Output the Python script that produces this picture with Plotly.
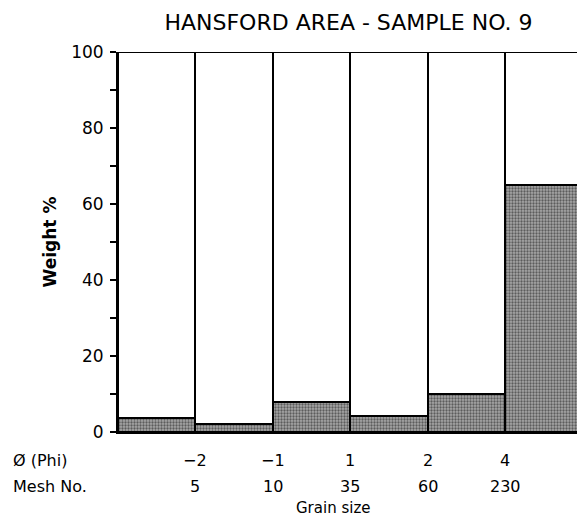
import plotly.graph_objects as go

title = "HANSFORD AREA - SAMPLE NO. 9"
bins = [0.5, 1.5, 2.5, 3.5, 4.5, 5.5]           # grain-size class centres (class index)
weight_pct = [3.7, 2.2, 8.0, 4.2, 9.9, 65.1]     # weight % in each class
boundaries = [1, 2, 3, 4, 5]                      # class boundaries
phi_labels = ["\u22122", "\u22121", "1", "2", "4"]
mesh_labels = ["5", "10", "35", "60", "230"]
y_ticks = [0, 10, 20, 30, 40, 50, 60, 70, 80, 90, 100]
y_ticktext = ["0", "", "20", "", "40", "", "60", "", "80", "", "100"]

FONT = "DejaVu Sans"
remainder = [100 - v for v in weight_pct]

fig = go.Figure()
fig.add_trace(go.Bar(
    x=bins, y=weight_pct, width=1,
    marker=dict(color="#a6a6a6",
                line=dict(color="black", width=2),
                pattern=dict(shape=".", fgcolor="#111111", bgcolor="#a6a6a6",
                             size=3, solidity=0.45)),
    showlegend=False, hoverinfo="skip"))
fig.add_trace(go.Bar(
    x=bins, y=remainder, width=1,
    marker=dict(color="white", line=dict(color="black", width=2)),
    showlegend=False, hoverinfo="skip"))

tf = dict(size=16, color="black", family=FONT)
ann = []
for b, p, m in zip(boundaries, phi_labels, mesh_labels):
    ann.append(dict(x=b, xref="x", y=0, yref="paper", yshift=-28, yanchor="middle",
                    text=p, showarrow=False, font=tf))
    ann.append(dict(x=b, xref="x", y=0, yref="paper", yshift=-54, yanchor="middle",
                    text=m, showarrow=False, font=tf))
row_x = (11 - 118) / 459
ann.append(dict(x=row_x, xref="paper", y=0, yref="paper", yshift=-28, yanchor="middle",
                xanchor="left", text="\u00d8 (Phi)", showarrow=False, font=tf))
ann.append(dict(x=row_x, xref="paper", y=0, yref="paper", yshift=-54, yanchor="middle",
                xanchor="left", text="Mesh No.", showarrow=False, font=tf))
ann.append(dict(x=0.47, xref="paper", y=0, yref="paper", yshift=-76, yanchor="middle",
                text="Grain size", showarrow=False,
                font=dict(size=15, color="black", family=FONT)))

fig.update_layout(
    width=577, height=518,
    margin=dict(l=118, r=0, t=52, b=86),
    paper_bgcolor="white", plot_bgcolor="white",
    barmode="stack", bargap=0,
    title=dict(text=title, x=0.604, xanchor="center", y=0.957, yanchor="middle",
               font=dict(size=22, color="black", family=FONT)),
    xaxis=dict(range=[0, 5.93], showgrid=False, zeroline=False, showticklabels=False,
               ticks="", showline=True, linecolor="black", linewidth=2, fixedrange=True,
               automargin=False),
    yaxis=dict(range=[0, 100], showgrid=False, zeroline=False,
               tickmode="array", tickvals=y_ticks, ticktext=y_ticktext,
               ticks="outside", ticklen=6, tickwidth=2, tickcolor="black",
               ticklabelstandoff=3,
               showline=True, linecolor="black", linewidth=2,
               tickfont=dict(size=17, color="black", family=FONT),
               automargin=False,
               title=dict(text="<b>Weight %</b>", standoff=10,
                          font=dict(size=17, color="black", family=FONT))),
    annotations=ann,
)
fig.write_html("out.html")
